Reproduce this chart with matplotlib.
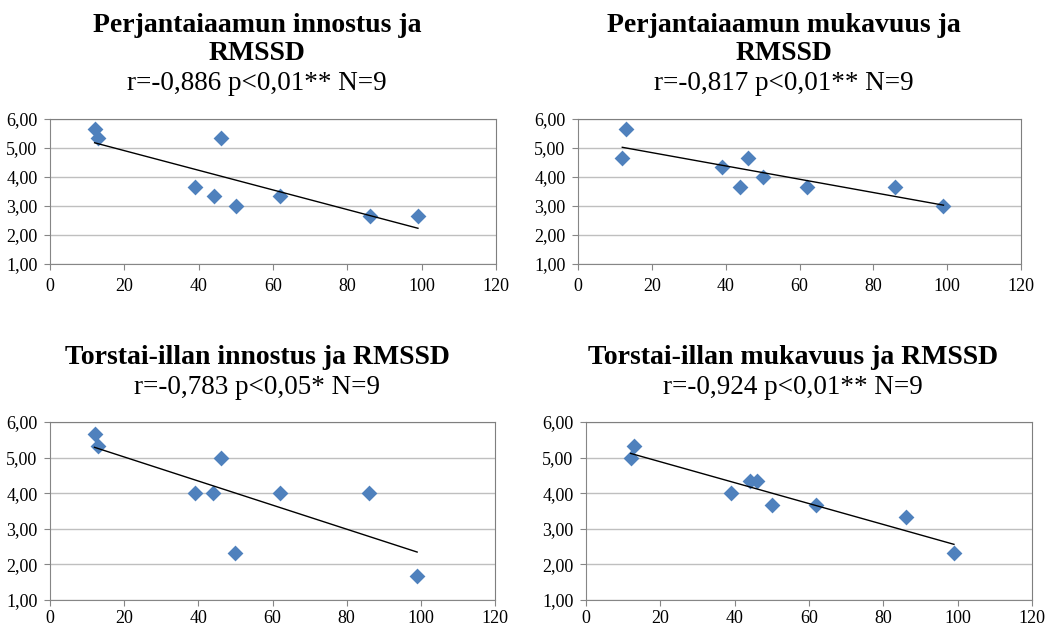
import numpy as np
import matplotlib.pyplot as plt
from matplotlib.ticker import FuncFormatter

# RMSSD values (x) shared by all four panels
rmssd = [12, 13, 39, 44, 46, 50, 62, 86, 99]

pe_innostus = [5.67, 5.33, 3.67, 3.33, 5.33, 3.00, 3.33, 2.67, 2.67]
pe_mukavuus = [4.67, 5.67, 4.33, 3.67, 4.67, 4.00, 3.67, 3.67, 3.00]
to_innostus = [5.67, 5.33, 4.00, 4.00, 5.00, 2.33, 4.00, 4.00, 1.67]
to_mukavuus = [5.00, 5.33, 4.00, 4.33, 4.33, 3.67, 3.67, 3.33, 2.33]

titles = [["Perjantaiaamun innostus ja", "RMSSD"],
          ["Perjantaiaamun mukavuus ja", "RMSSD"],
          ["Torstai-illan innostus ja RMSSD"],
          ["Torstai-illan mukavuus ja RMSSD"]]
stats = ["r=-0,886 p<0,01** N=9",
         "r=-0,817 p<0,01** N=9",
         "r=-0,783 p<0,05* N=9",
         "r=-0,924 p<0,01** N=9"]

W, H = 1045, 631
fig = plt.figure(figsize=(W / 100, H / 100), dpi=100)
serif = "Liberation Serif"

# plot-area boxes in pixels: left, top, right, bottom
boxes = [(50, 119, 496, 264), (578, 119, 1021, 264),
         (50, 422, 495, 600), (586, 422, 1032, 600)]
# title positions in pixels: x center, y of each title line, y of stats line
title_pos = [(257, [25, 53], 83), (784, [25, 53], 83),
             (257, [357], 388), (793, [357], 388)]

series = [pe_innostus, pe_mukavuus, to_innostus, to_mukavuus]
fmt = FuncFormatter(lambda v, p: f"{v:.2f}".replace(".", ","))

for (l, t, r, b), ys, tt, st, (tx, tys, ty2) in zip(boxes, series, titles, stats, title_pos):
    ax = fig.add_axes([l / W, 1 - b / H, (r - l) / W, (b - t) / H])
    ax.set_xlim(0, 120)
    ax.set_ylim(1, 6)
    ax.set_xticks(range(0, 121, 20))
    ax.set_yticks(range(1, 7))
    ax.yaxis.set_major_formatter(fmt)
    ax.grid(axis="y", color="#bfbfbf", linewidth=1)
    ax.set_axisbelow(True)
    for s in ["left", "bottom"]:
        ax.spines[s].set_color("#868686")
    for s in ["top", "right"]:
        ax.spines[s].set_color("#7f7f7f")
    ax.tick_params(colors="#868686", labelcolor="black", length=4, labelsize=13)
    ax.tick_params(axis="x", pad=6 if b < 300 else 3)
    ax.tick_params(axis="y", pad=5)
    for lab in ax.get_xticklabels() + ax.get_yticklabels():
        lab.set_fontfamily(serif)

    # linear trend line
    k, c = np.polyfit(rmssd, ys, 1)
    xs = np.array([min(rmssd), max(rmssd)])
    ax.scatter(rmssd, ys, marker="D", s=65, color="#4f81bd", zorder=3, linewidths=0)
    ax.plot(xs, k * xs + c, color="black", linewidth=1, zorder=4)

    for line, ty in zip(tt, tys):
        fig.text(tx / W, 1 - ty / H, line, ha="center", va="center", fontsize=20,
                 fontweight="bold", family=serif)
    fig.text(tx / W, 1 - ty2 / H, st, ha="center", va="center", fontsize=19.5, family=serif)

fig.savefig("out.png", dpi=100)
